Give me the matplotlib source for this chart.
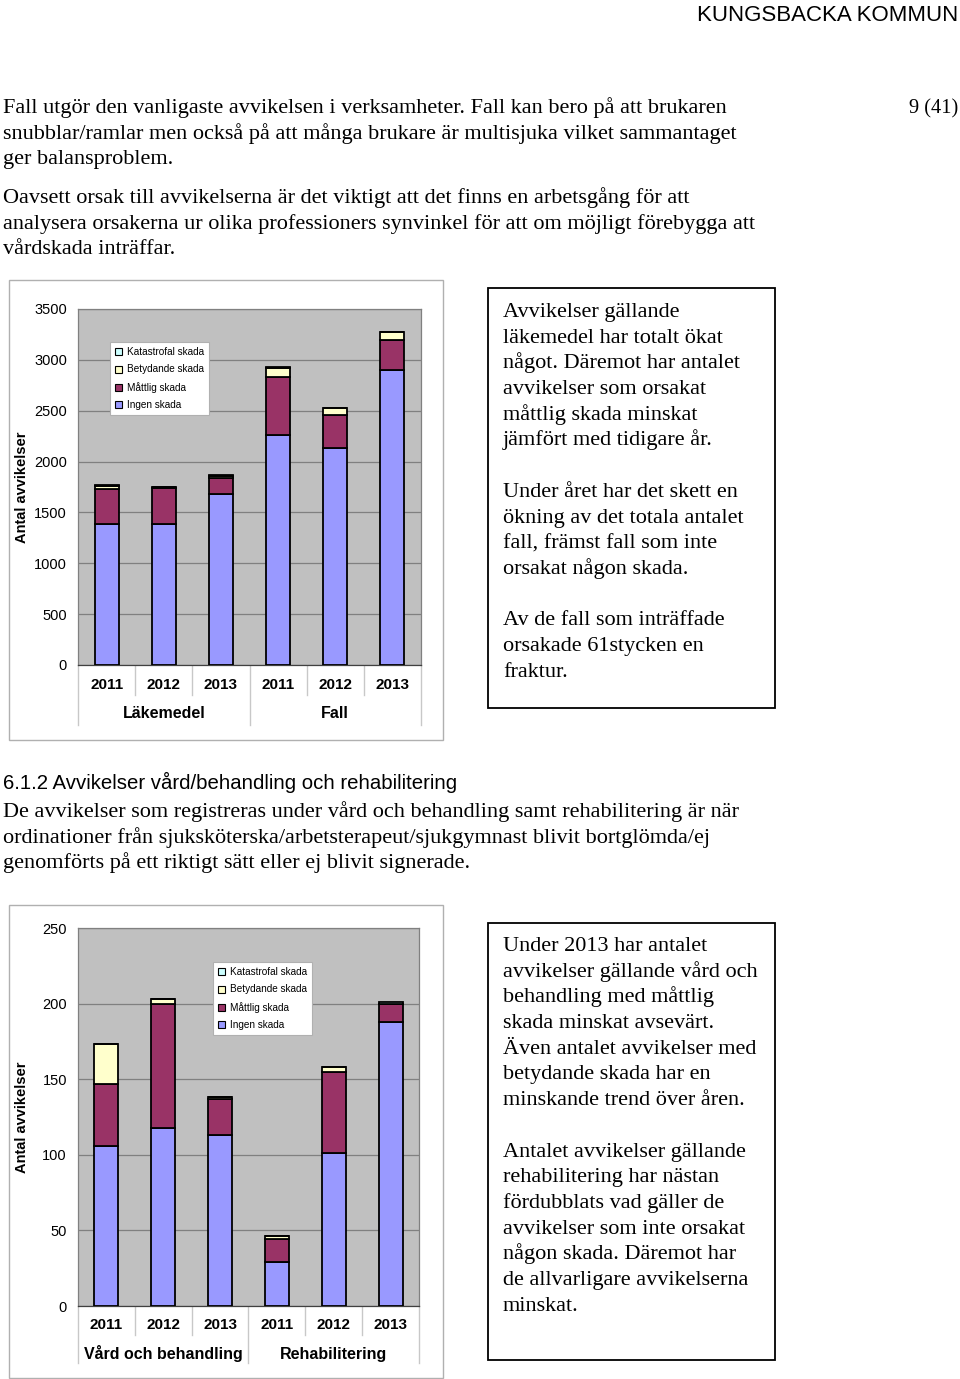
import numpy as np
import matplotlib
matplotlib.use("Agg")
import matplotlib.pyplot as plt
from matplotlib.patches import Rectangle, Patch
from matplotlib.transforms import blended_transform_factory

W, H = 960, 1379

series_names = ["Ingen skada", "Måttlig skada", "Betydande skada", "Katastrofal skada"]
series_colors = ["#9999FF", "#993366", "#FFFFCC", "#CCFFFF"]
years = ["2011", "2012", "2013", "2011", "2012", "2013"]

# chart 1: Läkemedel / Fall
groups1 = ["Läkemedel", "Fall"]
ingen1 = [1385, 1385, 1686, 2266, 2129, 2903]
mattlig1 = [350, 355, 148, 570, 331, 288]
betydande1 = [25, 8, 25, 88, 64, 78]
katastrofal1 = [5, 2, 5, 3, 2, 2]

# chart 2: Vård och behandling / Rehabilitering
groups2 = ["Vård och behandling", "Rehabilitering"]
ingen2 = [106, 118, 113, 29, 101, 188]
mattlig2 = [41, 82, 24, 15, 54, 12]
betydande2 = [26, 3, 1, 2, 3, 0]
katastrofal2 = [0, 0, 0.5, 0, 0, 1]

body1 = ["Fall utgör den vanligaste avvikelsen i verksamheter. Fall kan bero på att brukaren",
         "snubblar/ramlar men också på att många brukare är multisjuka vilket sammantaget",
         "ger balansproblem."]
body2 = ["Oavsett orsak till avvikelserna är det viktigt att det finns en arbetsgång för att",
         "analysera orsakerna ur olika professioners synvinkel för att om möjligt förebygga att",
         "vårdskada inträffar."]
heading = "6.1.2 Avvikelser vård/behandling och rehabilitering"
body3 = ["De avvikelser som registreras under vård och behandling samt rehabilitering är när",
         "ordinationer från sjuksköterska/arbetsterapeut/sjukgymnast blivit bortglömda/ej",
         "genomförts på ett riktigt sätt eller ej blivit signerade."]
box1 = ["Avvikelser gällande", "läkemedel har totalt ökat", "något. Däremot har antalet",
        "avvikelser som orsakat", "måttlig skada minskat", "jämfört med tidigare år.", "",
        "Under året har det skett en", "ökning av det totala antalet", "fall, främst fall som inte",
        "orsakat någon skada.", "", "Av de fall som inträffade", "orsakade 61stycken en", "fraktur."]
box2 = ["Under 2013 har antalet", "avvikelser gällande vård och", "behandling med måttlig",
        "skada minskat avsevärt.", "Även antalet avvikelser med", "betydande skada har en",
        "minskande trend över åren.", "", "Antalet avvikelser gällande",
        "rehabilitering har nästan", "fördubblats vad gäller de", "avvikelser som inte orsakat",
        "någon skada. Däremot har", "de allvarligare avvikelserna", "minskat."]

plt.rcParams["font.family"] = ["Liberation Sans", "DejaVu Sans"]


def fx(x):
    return x / W


def fy(y):
    return 1 - y / H


def frame(fig, x0, y0, x1, y1, color, lw):
    fig.add_artist(Rectangle((fx(x0), fy(y1)), (x1 - x0) / W, (y1 - y0) / H,
                             transform=fig.transFigure, fill=False, ec=color, lw=lw))


def draw_chart(fig, box, frame_box, series, groups, ymax, step, legend_pos, sep_short, sep_long,
               year_y, group_y):
    x0, y0, x1, y1 = box
    frame(fig, *frame_box, color="#b0b0b0", lw=1.0)
    ax = fig.add_axes([fx(x0), fy(y1), (x1 - x0) / W, (y1 - y0) / H])
    ax.set_facecolor("#C0C0C0")
    x = np.arange(len(years))
    bottom = np.zeros(len(years))
    for vals, name, col in zip(series, series_names, series_colors):
        ax.bar(x, vals, 0.42, bottom=bottom, color=col, edgecolor="black", lw=1.3,
               label=name, zorder=3)
        bottom = bottom + np.array(vals)
    ax.set_xlim(-0.5, 5.5)
    ax.set_ylim(0, ymax)
    ax.set_yticks(np.arange(0, ymax + 1, step))
    ax.yaxis.grid(True, color="#808080", lw=0.9, zorder=0)
    ax.set_xticks([])
    ax.tick_params(axis="y", length=0, pad=8, labelsize=10.5)
    for s in ax.spines.values():
        s.set_color("#808080")
        s.set_linewidth(0.9)
    ax.spines["bottom"].set_color("#404040")
    ax.set_ylabel("Antal avvikelser", fontsize=10.5, fontweight="bold")
    ax.yaxis.set_label_coords((29 - x0) / (x1 - x0), 0.5)

    tr = blended_transform_factory(ax.transData, fig.transFigure)
    for i, yr in enumerate(years):
        ax.text(i, fy(year_y), yr, transform=tr, ha="center", va="center",
                fontsize=11, fontweight="bold")
    for i in range(1, 6):
        if i == 3:
            continue
        ax.plot([i - 0.5, i - 0.5], [fy(y1), fy(sep_short)], transform=tr, color="#c8c8c8",
                lw=1.0, clip_on=False)
    for xs in [-0.5, 2.5, 5.5]:
        ax.plot([xs, xs], [fy(y1), fy(sep_long)], transform=tr, color="#c8c8c8",
                lw=1.0, clip_on=False)
    for i, g in enumerate(groups):
        ax.text(1 + 3 * i, fy(group_y), g, transform=tr, ha="center", va="center",
                fontsize=11.5, fontweight="bold")

    handles = [Patch(facecolor=c, edgecolor="black", lw=0.8, label=n)
               for n, c in zip(series_names, series_colors)][::-1]
    leg = ax.legend(handles=handles, loc="upper left", fontsize=7.2, frameon=True,
                    bbox_to_anchor=(fx(legend_pos[0]), fy(legend_pos[1])),
                    bbox_transform=fig.transFigure, borderaxespad=0,
                    handlelength=0.7, handleheight=0.7, handletextpad=0.5,
                    labelspacing=0.75, borderpad=0.5, fancybox=False, framealpha=1)
    leg.get_frame().set_edgecolor("#b0b0b0")
    leg.get_frame().set_linewidth(0.8)
    leg.set_zorder(5)
    return ax


fig = plt.figure(figsize=(W / 100, H / 100), dpi=100)

serif = "Liberation Serif"
sans = "Liberation Sans"

fig.text(fx(958), fy(21), "KUNGSBACKA KOMMUN", ha="right", va="baseline",
         fontsize=16, family=sans)
fig.text(fx(958), fy(113), "9 (41)", ha="right", va="baseline", fontsize=14.7, family=serif)

pitch = 25.6
for i, line in enumerate(body1):
    fig.text(fx(3), fy(113 + i * pitch), line, ha="left", va="baseline", fontsize=16, family=serif)
for i, line in enumerate(body2):
    fig.text(fx(3), fy(203 + i * pitch), line, ha="left", va="baseline", fontsize=16, family=serif)
fig.text(fx(3), fy(789), heading, ha="left", va="baseline", fontsize=14.7, family=sans)
for i, line in enumerate(body3):
    fig.text(fx(3), fy(817 + i * pitch), line, ha="left", va="baseline", fontsize=16, family=serif)

frame(fig, 488, 288, 775, 708, color="black", lw=1.3)
for i, line in enumerate(box1):
    fig.text(fx(503), fy(317 + i * 25.7), line, ha="left", va="baseline", fontsize=16,
             family=serif)
frame(fig, 488, 923, 775, 1360, color="black", lw=1.3)
for i, line in enumerate(box2):
    fig.text(fx(503), fy(951 + i * 25.7), line, ha="left", va="baseline", fontsize=16,
             family=serif)

draw_chart(fig, (78, 309, 421, 665), (9, 280, 443, 740),
           [ingen1, mattlig1, betydande1, katastrofal1], groups1, 3500, 500,
           (110, 342), 695, 725, 685, 714)
draw_chart(fig, (78, 928, 419, 1306), (9, 905, 443, 1378),
           [ingen2, mattlig2, betydande2, katastrofal2], groups2, 250, 50,
           (213, 962), 1335, 1363, 1325, 1354)

fig.savefig("out.png", dpi=100)
